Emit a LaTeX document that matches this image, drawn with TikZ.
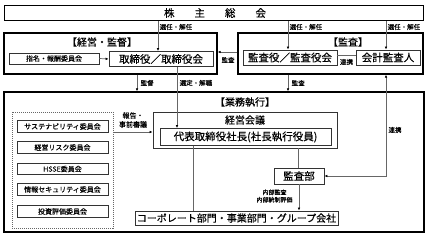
\documentclass[tikz,border=0pt]{standalone}
\usepackage{fontspec}
\setmainfont{Noto Sans CJK JP}[FakeBold=0.4]
\usetikzlibrary{arrows.meta}
\begin{document}
\begin{tikzpicture}[x=1pt,y=-1pt,
  outerbox/.style={draw=black,line width=1.4pt,inner sep=0pt},
  thinbox/.style={draw=black!80,line width=0.8pt,inner sep=0pt},
  bigtext/.style={font=\fontsize{10.5}{12}\selectfont},
  midtext/.style={font=\fontsize{10}{12}\selectfont},
  smalltext/.style={font=\fontsize{6.5}{7.5}\selectfont,inner sep=0.5pt},
  cmtext/.style={font=\fontsize{7}{8}\selectfont},
  conn/.style={draw=black!60,line width=0.7pt},
  arr/.style={conn,-{Latex[length=3pt,width=2.6pt,color=black]}},
  darr/.style={conn,{Latex[length=3pt,width=2.6pt,color=black]}-{Latex[length=3pt,width=2.6pt,color=black]}}
]
\useasboundingbox (0,0) rectangle (427,235);
\fill[white] (0,0) rectangle (427,235);

% top
\node[thinbox,draw=black,line width=0.9pt,minimum width=419pt,minimum height=15.5pt] (kabu) at (213.5,13) {};
\node[bigtext] (kabut) at (215,13) {株\hspace{20pt}主\hspace{20pt}総\hspace{20pt}会};

% management & supervision
\node[outerbox,minimum width=213pt,minimum height=41pt] (keiei) at (110.5,53.5) {};
\node[midtext] (keieit) at (102,42) {【経営・監督】};
\node[thinbox,minimum width=90pt,minimum height=11pt,cmtext] (shimei) at (54,58.5) {指名・報酬委員会};
\node[thinbox,minimum width=104pt,minimum height=15pt,bigtext] (tori) at (161,59) {取締役／取締役会};

% audit
\node[outerbox,minimum width=185pt,minimum height=41pt] (kansa) at (330.5,53.5) {};
\node[midtext] (kansat) at (348,42) {【監査】};
\node[thinbox,minimum width=94pt,minimum height=15pt,bigtext] (kyaku) at (290,57.5) {監査役／監査役会};
\node[thinbox,minimum width=64pt,minimum height=15pt,bigtext] (kaikei) at (388,57.5) {会計監査人};

% business execution
\node[outerbox,minimum width=420pt,minimum height=140pt] (gyomu) at (214,162) {};
\node[midtext] (gyomut) at (245,102) {【業務執行】};
\node[thinbox,minimum width=184pt,minimum height=36pt] (kaigi) at (245,130) {};
\node[midtext] (kaigit) at (245,120) {経営会議};
\node[thinbox,minimum width=171pt,minimum height=17pt,bigtext] (daihyo) at (245.5,137) {代表取締役社長(社長執行役員)};

\node[draw=black!60,line width=0.8pt,dash pattern=on 1pt off 1pt,minimum width=101pt,minimum height=116pt,inner sep=0pt] (iinkai) at (62.5,170) {};
\node[thinbox,minimum width=91pt,minimum height=11.5pt,cmtext] (c1) at (62.5,126.5) {サステナビリティ委員会};
\node[thinbox,minimum width=91pt,minimum height=11.5pt,cmtext] (c2) at (62.5,147.5) {経営リスク委員会};
\node[thinbox,minimum width=91pt,minimum height=11.5pt,cmtext] (c3) at (62.5,169) {HSSE委員会};
\node[thinbox,minimum width=91pt,minimum height=11.5pt,cmtext] (c4) at (62.5,189.5) {情報セキュリティ委員会};
\node[thinbox,minimum width=91pt,minimum height=11.5pt,cmtext] (c5) at (62.5,211.5) {投資評価委員会};

\node[thinbox,minimum width=50pt,minimum height=16pt,bigtext] (kansabu) at (299,176) {監査部};
\node[thinbox,minimum width=203pt,minimum height=14pt,midtext] (corp) at (236.5,218) {コーポレート部門・事業部門・グループ会社};

% helper coordinates
\coordinate (xa) at (158,0);
\coordinate (xb) at (288,0);
\coordinate (xc) at (386,0);
\coordinate (xd) at (137,0);
\coordinate (xe) at (177,0);
\coordinate (xf) at (193,0);
\coordinate (xg) at (298,0);
\coordinate (ya) at (0,52);
\coordinate (yb) at (0,55);
\coordinate (yc) at (0,132);

% connectors
\draw[arr] (xa |- kabu.south) -- (xa |- tori.north);
\draw[arr] (xb |- kabu.south) -- (xb |- kyaku.north);
\draw[arr] (xc |- kabu.south) -- (xc |- kaikei.north);
\draw[arr] (shimei.east) -- (tori.west);
\draw[arr] (kansa.west |- ya) -- (keiei.east |- ya);
\draw[conn] (kyaku.east |- yb) -- (kaikei.west |- yb);
\draw[arr] (xd |- keiei.south) -- (xd |- gyomu.north);
\draw[arr] (xe |- tori.south) -- (xe |- daihyo.north);
\draw[arr] (xb |- kansa.south) -- (xb |- gyomu.north);
\draw[darr] (kansabu.east) -| (xc |- kansa.south);
\draw[arr] (iinkai.east |- yc) -- (kaigi.west |- yc);
\draw[conn] (xf |- daihyo.south) -- (xf |- corp.north);
\draw[conn] (xg |- kaigi.south) -- (xg |- kansabu.north);
\draw[arr] (kansabu.south) -- (kansabu.south |- corp.north);

% labels
\node[smalltext,anchor=west] (l1) at (159,27) {選任・解任};
\node[smalltext,anchor=west] (l2) at (289,27) {選任・解任};
\node[smalltext,anchor=west] (l3) at (387,27) {選任・解任};
\node[smalltext] (l4) at (228,60) {監査};
\node[smalltext] (l5) at (346.5,62) {連携};
\node[smalltext,anchor=west] (l6) at (140,83) {監督};
\node[smalltext,anchor=west] (l7) at (179,83) {選定・解職};
\node[smalltext,anchor=west] (l8) at (291,83) {監査};
\node[smalltext,font=\fontsize{7}{9}\selectfont,align=center] (l9) at (133,120) {報告・\\事前審議};
\node[smalltext] (l10) at (395,130) {連携};
\node[smalltext,font=\fontsize{6}{7.5}\selectfont,align=center] (l11) at (274.5,196) {内部監査\\内部統制評価};
\end{tikzpicture}
\end{document}
